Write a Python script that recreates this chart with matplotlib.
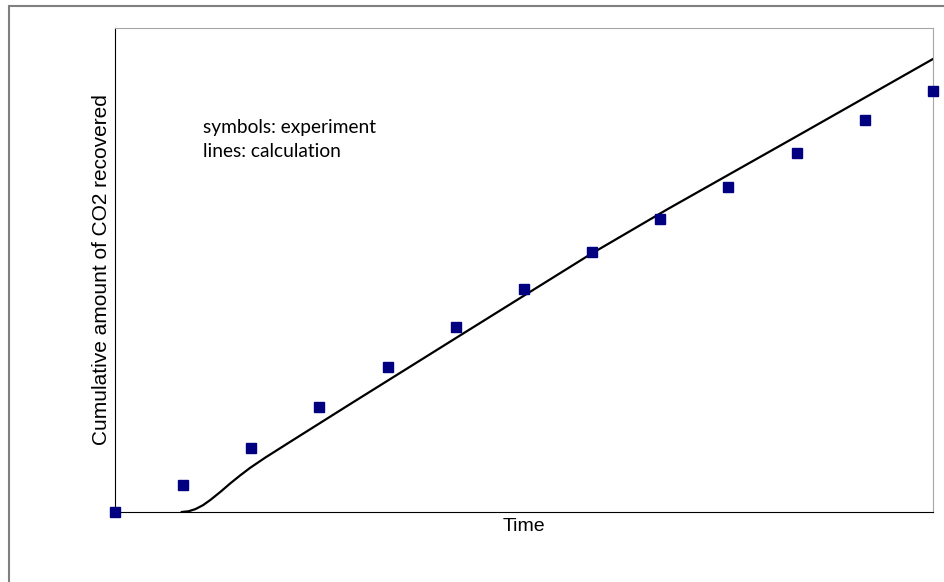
import matplotlib.pyplot as plt
from matplotlib.patches import Rectangle

# experiment (symbols)
exp_x = [0, 1, 2, 3, 4, 5, 6, 7, 8, 9, 10, 11, 12]
exp_y = [0, 5.6, 13.2, 21.7, 29.9, 38.2, 46.1, 53.7, 60.5, 67.1, 74.2, 81.0, 87.0]

# calculation (line)
calc_x = [0.98, 1.08, 1.18, 1.29, 1.40, 1.55, 1.69, 1.84, 1.98, 2.2, 2.57,
          3.45, 5.19, 6.98, 8.11, 10.06, 12.0]
calc_y = [0, 0.15, 0.6, 1.4, 2.5, 4.2, 5.9, 7.6, 9.1, 11.2, 14.5,
          22.3, 37.6, 53.3, 62.6, 78.1, 93.6]

fig = plt.figure(figsize=(9.45, 5.82), dpi=100)
ax = fig.add_axes([115/945, 70/582, 818/945, 484/582])

# outer chart frame (cut off on right and bottom)
fig.patches.append(Rectangle((9/945, -0.1), 1.2, 1 - 6/582 + 0.1,
                             transform=fig.transFigure, fill=False,
                             edgecolor='#808080', lw=1.5))

ax.plot(calc_x, calc_y, color='black', lw=1.6, zorder=2)
ax.plot(exp_x, exp_y, ls='none', marker='s', ms=7, color='#000080',
        clip_on=False, zorder=3)

ax.set_xlim(0, 12)
ax.set_ylim(0, 100)
ax.set_xticks([])
ax.set_yticks([])
for s in ['top', 'right']:
    ax.spines[s].set_color('#a6a6a6')
for s in ['left', 'bottom']:
    ax.spines[s].set_color('black')

ax.set_xlabel('Time', fontsize=14, family='Liberation Sans', labelpad=4)
ax.set_ylabel('Cumulative amount of CO2 recovered', fontsize=15,
              family='Liberation Sans', labelpad=3)

ax.text(0.107, 0.795, 'symbols: experiment', transform=ax.transAxes,
        fontsize=13.8, family='Lato', va='center')
ax.text(0.107, 0.745, 'lines: calculation', transform=ax.transAxes,
        fontsize=13.8, family='Lato', va='center')

fig.savefig('out.png', dpi=100)
